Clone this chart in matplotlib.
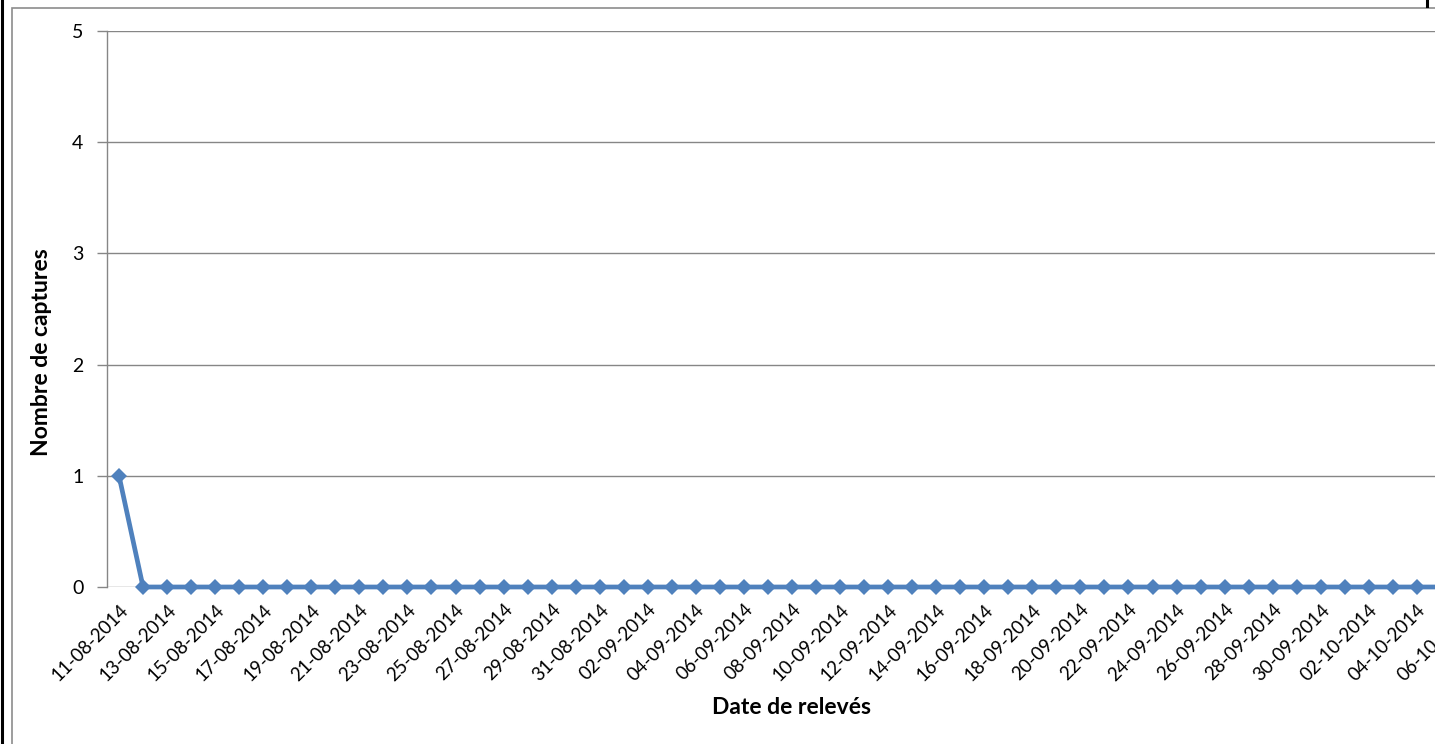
import matplotlib
matplotlib.use("Agg")
import matplotlib.pyplot as plt
from matplotlib.patches import Rectangle
from matplotlib.lines import Line2D

plt.rcParams['font.family'] = ['Lato', 'DejaVu Sans']

# Daily trap readings, 11-08-2014 to 06-10-2014
dates = [
    "11-08-2014", "12-08-2014", "13-08-2014", "14-08-2014", "15-08-2014",
    "16-08-2014", "17-08-2014", "18-08-2014", "19-08-2014", "20-08-2014",
    "21-08-2014", "22-08-2014", "23-08-2014", "24-08-2014", "25-08-2014",
    "26-08-2014", "27-08-2014", "28-08-2014", "29-08-2014", "30-08-2014",
    "31-08-2014", "01-09-2014", "02-09-2014", "03-09-2014", "04-09-2014",
    "05-09-2014", "06-09-2014", "07-09-2014", "08-09-2014", "09-09-2014",
    "10-09-2014", "11-09-2014", "12-09-2014", "13-09-2014", "14-09-2014",
    "15-09-2014", "16-09-2014", "17-09-2014", "18-09-2014", "19-09-2014",
    "20-09-2014", "21-09-2014", "22-09-2014", "23-09-2014", "24-09-2014",
    "25-09-2014", "26-09-2014", "27-09-2014", "28-09-2014", "29-09-2014",
    "30-09-2014", "01-10-2014", "02-10-2014", "03-10-2014", "04-10-2014",
    "05-10-2014", "06-10-2014",
]
captures = [
    1, 0, 0, 0, 0, 0, 0, 0, 0, 0,
    0, 0, 0, 0, 0, 0, 0, 0, 0, 0,
    0, 0, 0, 0, 0, 0, 0, 0, 0, 0,
    0, 0, 0, 0, 0, 0, 0, 0, 0, 0,
    0, 0, 0, 0, 0, 0, 0, 0, 0, 0,
    0, 0, 0, 0, 0, 0, 0,
]
y_ticks = [0, 1, 2, 3, 4, 5]

W, H = 1450, 744
fig = plt.figure(figsize=(W / 100, H / 100), dpi=100)
fig.patch.set_facecolor("white")

def fx(px):
    return px / W

def fy(py):
    return 1 - py / H

# plot area (extends past the right edge of the canvas)
left, right, top, bottom = 107, 1477, 31, 587
ax = fig.add_axes([fx(left), fy(bottom), fx(right - left), (bottom - top) / H])

grid_col = "#868686"
x = list(range(len(dates)))
ax.plot(x, captures, color="#4F81BD", lw=3.4, marker="D", markersize=8.2,
        markeredgewidth=0, zorder=3, clip_on=False)

ax.set_xlim(-0.5, len(dates) - 0.5)
ax.set_ylim(0, 5)
ax.set_yticks(y_ticks)
ax.set_yticklabels([str(v) for v in y_ticks], fontsize=14)
ax.yaxis.grid(True, color=grid_col, lw=1.0)
ax.set_axisbelow(True)

ax.set_xticks(x[::2])
ax.set_xticklabels(dates[::2], rotation=45, ha="right", va="top",
                   rotation_mode="anchor", fontsize=13.4)
ax.tick_params(axis="x", length=0, pad=10)
ax.tick_params(axis="y", length=7, width=1, color=grid_col, pad=10)

for s in ["top", "right", "bottom"]:
    ax.spines[s].set_visible(False)
ax.spines["left"].set_color(grid_col)
ax.spines["left"].set_linewidth(1.0)

fig.text(fx(42), fy(352), "Nombre de captures", rotation=90, ha="center",
         va="center", fontsize=16.5, fontweight="bold")
fig.text(fx(792), fy(707), "Date de relevés", ha="center", va="center",
         fontsize=16.5, fontweight="bold")

# chart frame
fig.add_artist(Rectangle((fx(11.5), fy(780)), fx(1500), (780 - 7.5) / H,
                         fill=False, edgecolor="#8c8c8c", lw=1.2,
                         transform=fig.transFigure, zorder=5))
# page edge on the right: blank strip
fig.add_artist(Rectangle((fx(1435), 0), fx(20), 1, facecolor="white",
                         edgecolor="none", transform=fig.transFigure, zorder=10))
# outer black border lines
fig.add_artist(Line2D([fx(1.5), fx(1.5)], [0, 1], color="black", lw=2.2,
                      transform=fig.transFigure, zorder=11))
fig.add_artist(Line2D([fx(1427), fx(1427)], [1, fy(6)], color="black", lw=2.2,
                      transform=fig.transFigure, zorder=11))

fig.savefig("out.png", dpi=100, facecolor="white")
